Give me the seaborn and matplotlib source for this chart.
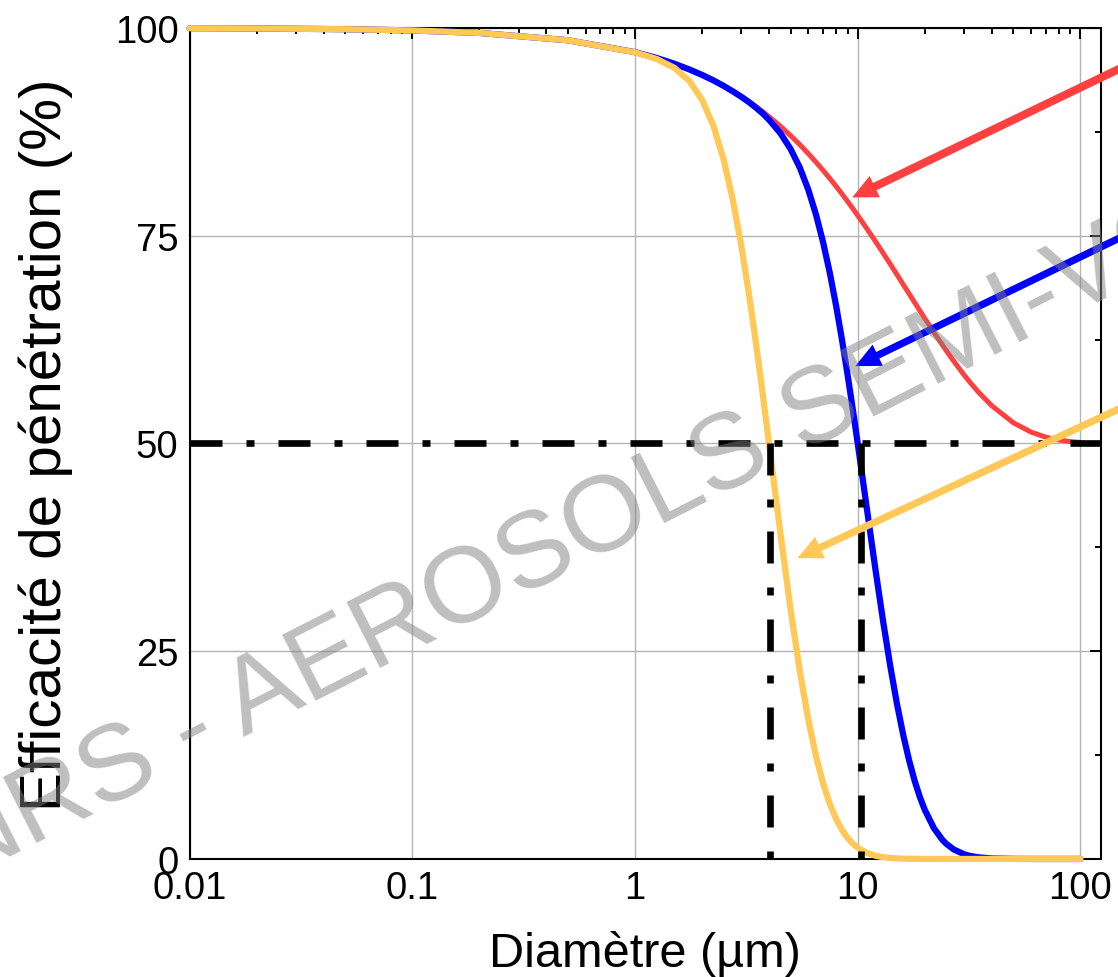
import numpy as np
import pandas as pd
import matplotlib
matplotlib.use("Agg")
import matplotlib.pyplot as plt
import seaborn as sns
from matplotlib.ticker import FixedLocator, FixedFormatter, MultipleLocator, NullFormatter, LogLocator

# data: diameter (µm) and penetration efficiency (%)
diam = [0.01, 0.02, 0.05, 0.1, 0.2, 0.5, 1, 1.25, 1.5, 1.75, 2, 2.25, 2.5, 2.75, 3, 3.25,
        3.5, 3.75, 4, 4.5, 5, 5.5, 6, 6.5, 7, 7.5, 8, 8.5, 9, 9.5, 10, 11, 12, 13, 14, 15,
        16, 17, 18, 19, 20, 22, 24, 25, 27, 30, 32, 35, 40, 50, 60, 70, 80, 90, 100]
inhalable = [99.97, 99.94, 99.85, 99.70, 99.40, 98.52, 97.09, 96.39, 95.70, 95.02, 94.35,
             93.69, 93.04, 92.39, 91.76, 91.14, 90.53, 89.93, 89.33, 88.17, 87.04, 85.95,
             84.88, 83.85, 82.85, 81.88, 80.94, 80.03, 79.14, 78.28, 77.44, 75.84, 74.34,
             72.92, 71.59, 70.33, 69.14, 68.03, 66.98, 65.99, 65.06, 63.36, 61.85, 61.16,
             59.90, 58.26, 57.33, 56.12, 54.54, 52.49, 51.37, 50.75, 50.41, 50.23, 50.12]
thoracic = [99.97, 99.94, 99.85, 99.70, 99.40, 98.52, 97.09, 96.39, 95.70, 95.02, 94.35,
            93.69, 93.03, 92.37, 91.72, 91.07, 90.39, 89.70, 88.95, 87.33, 85.42, 83.18,
            80.54, 77.53, 74.16, 70.49, 66.57, 62.50, 58.33, 54.16, 50.03, 42.12, 34.94,
            28.63, 23.23, 18.69, 14.96, 11.91, 9.45, 7.48, 5.92, 3.69, 2.30, 1.82,
            1.14, 0.57, 0.36, 0.19, 0.06, 0.01, 0, 0, 0, 0, 0]
respirable = [99.97, 99.94, 99.85, 99.70, 99.40, 98.52, 97.07, 96.27, 95.21, 93.66, 91.38,
              88.22, 84.17, 79.32, 73.85, 67.98, 61.92, 55.87, 49.97, 39.14, 29.97, 22.56,
              16.77, 12.36, 9.05, 6.60, 4.81, 3.50, 2.54, 1.85, 1.35, 0.72, 0.39,
              0.21, 0.12, 0.07, 0.04, 0.02, 0.01, 0.01, 0, 0, 0, 0,
              0, 0, 0, 0, 0, 0, 0, 0, 0, 0, 0]

# 50 % cut-off diameters (guides)
cut_level = 50
cut_diam = [4.05, 10.35]

# arrow tips (data) and tails (figure fraction)
arrow_tips = [(9.45, 79.6), (9.75, 59.3), (5.36, 36.2)]
arrow_tails = [(1.02, 0.939), (1.02, 0.766), (1.02, 0.591)]

xticks = [0.01, 0.1, 1, 10, 100]
xtick_labels = ["0.01", "0.1", "1", "10", "100"]
yticks = [0, 25, 50, 75, 100]

RED = "#ff4040"
BLUE = "#0000ff"
YELLOW = "#ffc857"

sns.set_theme(style="white")
plt.rcParams["font.family"] = ["Liberation Sans", "DejaVu Sans"]

df = pd.DataFrame({"d": diam, "inh": inhalable, "tho": thoracic, "resp": respirable})

fig = plt.figure(figsize=(11.18, 9.78), dpi=100)
ax = fig.add_axes([0.1695, 0.1207, 0.8155, 0.8497])

sns.lineplot(data=df, x="d", y="inh", color=RED, lw=3.6, ax=ax, clip_on=False, zorder=3)
sns.lineplot(data=df, x="d", y="tho", color=BLUE, lw=4.5, ax=ax, clip_on=False, zorder=4)
sns.lineplot(data=df, x="d", y="resp", color=YELLOW, lw=4.5, ax=ax, clip_on=False, zorder=5)

# dash-dot guides
dash = (0, (4.8, 3.6, 1.2, 3.6))
ax.axhline(cut_level, color="black", lw=4.8, linestyle=dash, zorder=6)
ax.vlines(cut_diam, cut_level, 0, color="black", lw=4.8, linestyles=[dash], zorder=6)

# arrows
for tip, tail, c in zip(arrow_tips, arrow_tails, [RED, BLUE, YELLOW]):
    tw = 0.29 if c == RED else 0.26
    ax.annotate("", xy=tip, xycoords="data", xytext=tail, textcoords="figure fraction",
                arrowprops=dict(arrowstyle=f"simple,head_length=0.9,head_width=0.85,tail_width={tw}",
                                fc=c, ec="none", lw=0, shrinkA=0, shrinkB=0, mutation_scale=20),
                annotation_clip=False, zorder=7)

ax.set_xscale("log")
ax.set_xlim(0.01, 124)
ax.set_ylim(0, 100)
ax.xaxis.set_major_locator(FixedLocator(xticks))
ax.xaxis.set_major_formatter(FixedFormatter(xtick_labels))
ax.xaxis.set_minor_locator(LogLocator(base=10, subs=np.arange(2, 10), numticks=20))
ax.xaxis.set_minor_formatter(NullFormatter())
ax.yaxis.set_major_locator(FixedLocator(yticks))
ax.yaxis.set_minor_locator(MultipleLocator(12.5))

ax.grid(True, which="major", color="#b4b4b4", lw=1.0, zorder=0)
ax.set_axisbelow(True)
for s in ax.spines.values():
    s.set_color("black")
    s.set_linewidth(1.5)

ax.tick_params(which="both", direction="in", top=True, right=True, color="black",
               width=1.4, labelsize=27.5, labelcolor="black", pad=8)
ax.tick_params(which="major", length=8)
ax.tick_params(which="minor", length=4.5)

ax.set_xlabel("Diamètre (µm)", fontsize=35, color="black")
ax.set_ylabel("Efficacité de pénétration (%)", fontsize=42, color="black")
ax.xaxis.set_label_coords(0.5, -0.085)
ax.yaxis.set_label_coords(-0.128, 0.5)

# watermark
fig.text(0.6404, 0.5235, "INRS - AEROSOLS SEMI-VOLATILS", fontsize=78, color="#808080",
         alpha=0.5, rotation=27, rotation_mode="anchor", ha="center", va="center", zorder=10)

fig.savefig("out.png", dpi=100)
